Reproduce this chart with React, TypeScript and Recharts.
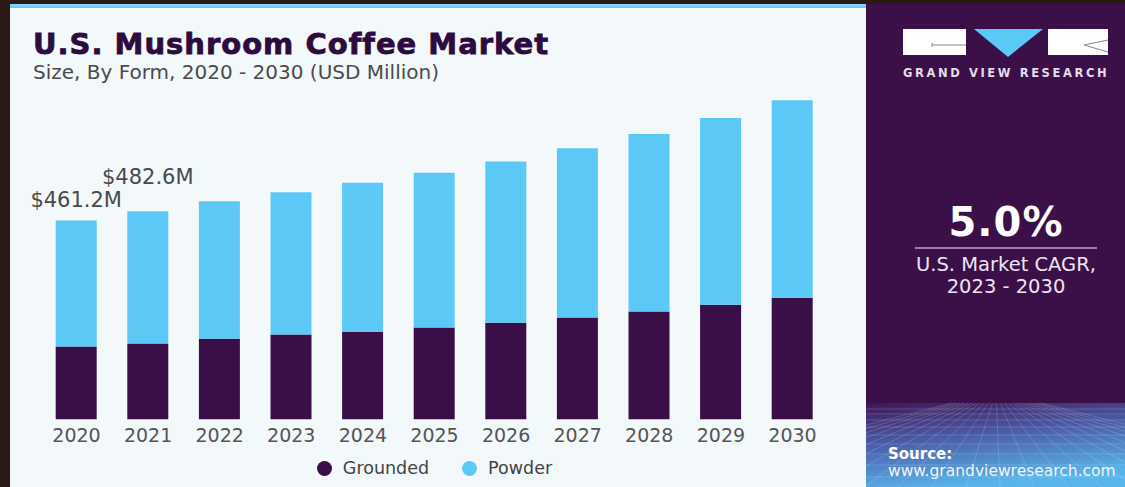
import React from 'react'
import { BarChart, Bar, XAxis, YAxis, Legend, LabelList } from 'recharts'

const years = ['2020', '2021', '2022', '2023', '2024', '2025', '2026', '2027', '2028', '2029', '2030']
const grounded = [169, 176, 187, 197, 203, 213, 224, 236, 250, 266, 282]
const powder = [292.2, 306.6, 319, 330, 346, 359, 374, 393, 412, 433, 458]
const totalLabels = ['$461.2M', '$482.6M', '', '', '', '', '', '', '', '', '']

const data = years.map((year, i) => ({
  year,
  grounded: grounded[i],
  powder: powder[i],
  label: totalLabels[i]
}))

const PURPLE = '#3a0f48'
const SKY = '#5bc8f5'
const FONT = '"DejaVu Sans", sans-serif'

// how far each total label sits above its bar
const labelLift = [14, 27]

function TotalLabel(props: any) {
  const { x, y, width, value } = props
  if (!value) return null
  const i = totalLabels.indexOf(value)
  return (
    <text
      x={Number(x) + Number(width) / 2}
      y={Number(y) - (labelLift[i] ?? 14)}
      textAnchor="middle"
      fontSize={21}
      fontFamily={FONT}
      fill="#4a4a4a"
    >
      {value}
    </text>
  )
}

function LegendRow({ payload }: any) {
  return (
    <div
      style={{
        height: 30,
        display: 'flex',
        justifyContent: 'center',
        alignItems: 'center',
        gap: 33,
        fontFamily: FONT,
        fontSize: 17.5,
        color: '#444'
      }}
    >
      {(payload || []).map((p: any) => (
        <div key={p.value} style={{ display: 'flex', alignItems: 'center', gap: 11 }}>
          <span
            style={{ width: 15, height: 15, borderRadius: '50%', background: p.color, display: 'inline-block' }}
          />
          <span>{p.value}</span>
        </div>
      ))}
    </div>
  )
}

function SidePanel() {
  const gridRows = [409, 414, 420, 427, 435, 444, 454, 465, 477]
  const gridCols = Array.from({ length: 23 }, (_, k) => -240 + k * 34)
  return (
    <svg width={259} height={487} style={{ position: 'absolute', left: 866, top: 0 }}>
      <defs>
        <linearGradient id="floor" x1="0" y1="0" x2="0.3" y2="1">
          <stop offset="0" stopColor="#3f1657" />
          <stop offset="0.45" stopColor="#4a5aa6" />
          <stop offset="1" stopColor="#58b4ea" />
        </linearGradient>
      </defs>
      <rect x={0} y={4} width={259} height={483} fill="#3b1049" />
      <rect x={0} y={403} width={259} height={84} fill="url(#floor)" />
      <g stroke="rgba(255,255,255,0.16)" strokeWidth={1}>
        {gridRows.map(r => (
          <line key={r} x1={0} x2={259} y1={r} y2={r} />
        ))}
        {gridCols.map(c => (
          <line key={c} x1={130 + (c - 130) * 0.12} y1={403} x2={c} y2={487} />
        ))}
      </g>
      {/* logo */}
      <rect x={37} y={29} width={63} height={26} fill="#fff" />
      <line x1={66} y1={45} x2={100} y2={45} stroke="#888" strokeWidth={1} />
      <line x1={66} y1={43} x2={66} y2={47} stroke="#888" strokeWidth={1} />
      <polygon points="108,29 177,29 142,57" fill={SKY} />
      <rect x={182} y={29} width={60} height={26} fill="#fff" />
      <line x1={218} y1={45} x2={242} y2={40} stroke="#888" strokeWidth={1} />
      <line x1={218} y1={45} x2={242} y2={52} stroke="#888" strokeWidth={1} />
      <text x={37} y={77} fontFamily={FONT} fontWeight="bold" fontSize={11.5} letterSpacing={2.6} fill="#e2dde8">
        GRAND VIEW RESEARCH
      </text>
      <text x={140} y={236} textAnchor="middle" fontFamily={FONT} fontWeight="bold" fontSize={40} letterSpacing={1} fill="#fff">
        5.0%
      </text>
      <line x1={49} x2={231} y1={248} y2={248} stroke="#b9a3c9" strokeWidth={1.5} />
      <text x={140} y={271} textAnchor="middle" fontFamily={FONT} fontSize={19.5} fill="#ece4f0">
        U.S. Market CAGR,
      </text>
      <text x={140} y={293} textAnchor="middle" fontFamily={FONT} fontSize={19.5} fill="#ece4f0">
        2023 - 2030
      </text>
      <text x={22} y={459} fontFamily={FONT} fontWeight="bold" fontSize={15} fill="#fff">
        Source:
      </text>
      <text x={22} y={476} fontFamily={FONT} fontSize={15.5} fill="#f2f2f2">
        www.grandviewresearch.com
      </text>
    </svg>
  )
}

export default function App() {
  return (
    <div style={{ position: 'absolute', left: 0, top: 0, width: 1125, height: 487, background: '#2b1913', overflow: 'hidden' }}>
      <div style={{ position: 'absolute', left: 10, top: 4, width: 856, height: 4, background: 'linear-gradient(#8ed8f8, #5bc8f5)' }} />
      <div style={{ position: 'absolute', left: 10, top: 8, width: 856, height: 479, background: '#f3f8fb' }} />
      <svg width={860} height={90} style={{ position: 'absolute', left: 0, top: 0 }}>
        <text
          x={33}
          y={54}
          fontFamily={FONT}
          fontWeight="bold"
          fontSize={29}
          letterSpacing={1}
          fill="#2d0b3f"
          stroke="#2d0b3f"
          strokeWidth={0.8}
        >
          U.S. Mushroom Coffee Market
        </text>
        <text x={33} y={79} fontFamily={FONT} fontSize={20} fill="#4b4b4b">
          Size, By Form, 2020 - 2030 (USD Million)
        </text>
      </svg>
      <div style={{ position: 'absolute', left: 0, top: 0 }}>
        <BarChart
          width={865}
          height={487}
          data={data}
          margin={{ top: 74.5, right: 36.7, left: 40.7, bottom: 4 }}
        >
          <XAxis
            dataKey="year"
            axisLine={false}
            tickLine={false}
            tickMargin={3}
            height={33.7}
            interval={0}
            tick={{ fontSize: 19, fill: '#555', fontFamily: FONT }}
          />
          <YAxis hide domain={[0, 800]} />
          <Legend verticalAlign="bottom" content={<LegendRow />} />
          <Bar dataKey="grounded" name="Grounded" stackId="a" fill={PURPLE} barSize={41} isAnimationActive={false} />
          <Bar dataKey="powder" name="Powder" stackId="a" fill={SKY} barSize={41} isAnimationActive={false}>
            <LabelList dataKey="label" content={<TotalLabel />} />
          </Bar>
        </BarChart>
      </div>
      <SidePanel />
    </div>
  )
}
